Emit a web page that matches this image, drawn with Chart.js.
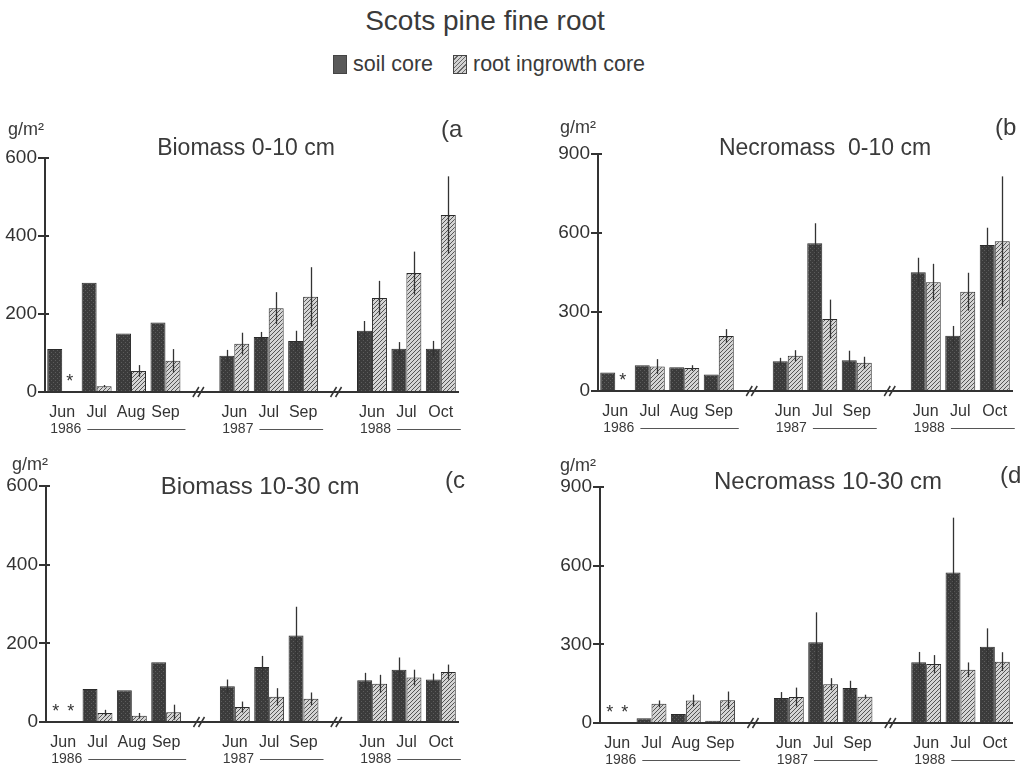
<!DOCTYPE html>
<html>
<head>
<meta charset="utf-8">
<script src="https://cdn.jsdelivr.net/npm/chart.js@4.4.0/dist/chart.umd.min.js"></script>
<style>
body { margin:0; background:#fff; width:1035px; height:770px; position:relative; overflow:hidden;
       font-family:"Liberation Sans", Arial, sans-serif; color:#3a3a3a; }
#title { position:absolute; left:0; width:970px; top:5px; text-align:center; font-size:28px; }
#legend { position:absolute; left:333px; top:52px; font-size:21.5px; white-space:nowrap; }
#legend span.sw { display:inline-block; width:14px; height:19px; vertical-align:-3px; border:1px solid #444; box-sizing:border-box; }
#legend .soil { background:#5a5a5a; }
#legend .ing { background:repeating-linear-gradient(135deg, #d2d2d2 0 2px, #666 2px 3px); margin-left:14px; }
.panel { position:absolute; }
</style>
</head>
<body>
<div id="title">Scots pine fine root</div>
<div id="legend"><span class="sw soil"></span> soil core <span class="sw ing"></span> root ingrowth core</div>
<canvas id="chartA" class="panel"></canvas>
<canvas id="chartB" class="panel"></canvas>
<canvas id="chartC" class="panel"></canvas>
<canvas id="chartD" class="panel"></canvas>
<script>
const FONT = '"Liberation Sans", Arial, sans-serif';
const NARROW = '"Liberation Sans Narrow", "Arial Narrow", "Liberation Sans", sans-serif';
const INK = '#333';

// x categories: three sampling years with an empty slot for each axis break
const months = ['Jun', 'Jul', 'Aug', 'Sep', '', 'Jun', 'Jul', 'Sep', '', 'Jun', 'Jul', 'Oct'];
const years = ['1986', '1987', '1988'];
const yearFirst = [0, 5, 9];
const yearLast = [3, 7, 11];
const breaks = [4, 8];

// (a) Biomass 0-10 cm
const soilA = [110, 280, 150, 178, null, 93, 141, 131, null, 157, 111, 111];
const soilAErr = [0, 0, 0, 0, null, 15, 13, 26, null, 25, 17, 20];
const ingA = [null, 15, 54, 80, null, 124, 215, 244, null, 241, 305, 454];
const ingAErr = [0, 3, 15, 30, null, 28, 41, 76, null, 44, 55, 99];

// (b) Necromass 0-10 cm
const soilB = [70, 98, 90, 63, null, 113, 561, 117, null, 451, 210, 554];
const soilBErr = [0, 0, 0, 0, null, 13, 76, 36, null, 55, 37, 66];
const ingB = [null, 93, 87, 209, null, 134, 273, 107, null, 413, 377, 569];
const ingBErr = [0, 28, 11, 26, null, 21, 74, 23, null, 70, 72, 246];

// (c) Biomass 10-30 cm
const soilC = [null, 84, 81, 152, null, 91, 140, 220, null, 106, 133, 108];
const soilCErr = [0, 0, 0, 0, null, 17, 28, 73, null, 19, 31, 15];
const ingC = [null, 23, 16, 25, null, 38, 64, 59, null, 97, 113, 127];
const ingCErr = [0, 8, 7, 19, null, 14, 22, 16, null, 23, 20, 19];

// (d) Necromass 10-30 cm
const soilD = [null, 18, 34, 9, null, 95, 308, 133, null, 232, 574, 291];
const soilDErr = [0, 0, 0, 0, null, 23, 114, 28, null, 39, 209, 70];
const ingD = [null, 73, 86, 87, null, 99, 148, 100, null, 225, 203, 234];
const ingDErr = [0, 13, 22, 33, null, 36, 23, 8, null, 34, 28, 36];

function makePattern(kind) {
    const c = document.createElement('canvas');
    c.width = 4; c.height = 4;
    const g = c.getContext('2d');
    if (kind === 'soil') {
        g.fillStyle = '#3b3b3b'; g.fillRect(0, 0, 4, 4);
        g.fillStyle = '#5c5c5c'; g.fillRect(1, 0, 1, 1); g.fillRect(3, 2, 1, 1);
    } else {
        g.fillStyle = '#d4d4d4'; g.fillRect(0, 0, 4, 4);
        g.fillStyle = '#555';
        for (let i = 0; i < 4; i++) g.fillRect(3 - i, i, 1, 1);
    }
    return g.createPattern(c, 'repeat');
}

// page geometry of each panel (canvas box, axis box, text anchors)
const panels = [
    { id: 'chartA', left: 0, top: 90, w: 515, h: 350, axL: 45, axT: 158, axB: 392, axR: 458, ymax: 600, step: 200,
      soil: soilA, soilErr: soilAErr, ing: ingA, ingErr: ingAErr,
      title: 'Biomass 0-10 cm', titleX: 246, titleY: 149, titleSize: 23, tag: '(a', tagX: 441, tagY: 130, unitX: 8, unitY: 130 },
    { id: 'chartB', left: 515, top: 90, w: 520, h: 350, axL: 598, axT: 154, axB: 391, axR: 1012, ymax: 900, step: 300,
      soil: soilB, soilErr: soilBErr, ing: ingB, ingErr: ingBErr,
      title: 'Necromass  0-10 cm', titleX: 825, titleY: 149, titleSize: 23, tag: '(b', tagX: 995, tagY: 128, unitX: 560, unitY: 128 },
    { id: 'chartC', left: 0, top: 425, w: 515, h: 345, axL: 46, axT: 486, axB: 722, axR: 458, ymax: 600, step: 200,
      soil: soilC, soilErr: soilCErr, ing: ingC, ingErr: ingCErr,
      title: 'Biomass 10-30 cm', titleX: 260, titleY: 487, titleSize: 24, tag: '(c', tagX: 445, tagY: 481, unitX: 12, unitY: 465 },
    { id: 'chartD', left: 515, top: 425, w: 520, h: 345, axL: 600, axT: 487, axB: 723, axR: 1012, ymax: 900, step: 300,
      soil: soilD, soilErr: soilDErr, ing: ingD, ingErr: ingDErr,
      title: 'Necromass 10-30 cm', titleX: 828, titleY: 482, titleSize: 24, tag: '(d', tagX: 1000, tagY: 476, unitX: 560, unitY: 466 }
];

const Y_AXIS_W = 40;
const X_AXIS_H = 40;

const decorPlugin = {
    id: 'decor',
    afterDatasetsDraw(chart, args, opts) {
        const ctx = chart.ctx;
        const yScale = chart.scales.y;
        ctx.save();
        ctx.strokeStyle = INK;
        ctx.lineWidth = 1.3;
        chart.data.datasets.forEach((ds, i) => {
            const meta = chart.getDatasetMeta(i);
            meta.data.forEach((bar, j) => {
                const v = ds.data[j];
                const e = ds.errors[j];
                if (v === null) {
                    if (months[j] !== '') {
                        ctx.fillStyle = INK;
                        ctx.font = '18px ' + FONT;
                        ctx.textAlign = 'center';
                        ctx.textBaseline = 'middle';
                        ctx.fillText('*', bar.x, chart.chartArea.bottom - 10);
                    }
                    return;
                }
                if (!e) return;
                ctx.beginPath();
                ctx.moveTo(Math.round(bar.x) + 0.5, yScale.getPixelForValue(v + e));
                ctx.lineTo(Math.round(bar.x) + 0.5, yScale.getPixelForValue(Math.max(0, v - e)));
                ctx.stroke();
            });
        });
        ctx.restore();
    },
    afterDraw(chart, args, opts) {
        const ctx = chart.ctx;
        const xScale = chart.scales.x;
        const yScale = chart.scales.y;
        const area = chart.chartArea;
        const p = opts.panel;
        ctx.save();
        ctx.fillStyle = '#3a3a3a';
        ctx.textBaseline = 'middle';

        // panel title, tag and unit
        ctx.font = p.titleSize + 'px ' + FONT;
        ctx.textAlign = 'center';
        ctx.fillText(p.title, p.titleX - p.left, p.titleY - p.top);
        ctx.font = '24px ' + FONT;
        ctx.textAlign = 'left';
        ctx.fillText(p.tag, p.tagX - p.left, p.tagY - p.top);
        ctx.font = '18px ' + FONT;
        ctx.fillText('g/m²', p.unitX - p.left, p.unitY - p.top);

        // small tick stubs on the inside of the y axis
        ctx.strokeStyle = INK;
        ctx.lineWidth = 2;
        yScale.ticks.forEach(t => {
            const yy = Math.round(yScale.getPixelForValue(t.value));
            ctx.beginPath();
            ctx.moveTo(area.left, yy);
            ctx.lineTo(area.left + 4, yy);
            ctx.stroke();
        });

        // year labels with their rule
        ctx.font = '14px ' + NARROW;
        ctx.strokeStyle = '#555';
        ctx.lineWidth = 1;
        years.forEach((yr, k) => {
            const x0 = xScale.getPixelForValue(yearFirst[k]) - 12;
            const x1 = xScale.getPixelForValue(yearLast[k]) + 20;
            const yy = area.bottom + 37;
            ctx.fillText(yr, x0, yy);
            const tw = ctx.measureText(yr).width;
            ctx.beginPath();
            ctx.moveTo(x0 + tw + 6, yy + 0.5);
            ctx.lineTo(x1, yy + 0.5);
            ctx.stroke();
        });

        // axis breaks
        ctx.strokeStyle = INK;
        ctx.lineWidth = 1.5;
        breaks.forEach(b => {
            const cx = xScale.getPixelForValue(b);
            [-7, -2].forEach(dx => {
                ctx.beginPath();
                ctx.moveTo(cx + dx, area.bottom + 5);
                ctx.lineTo(cx + dx + 6, area.bottom - 5);
                ctx.stroke();
            });
        });
        ctx.restore();
    }
};

const soilFill = makePattern('soil');
const ingFill = makePattern('ing');

panels.forEach(p => {
    const canvas = document.getElementById(p.id);
    canvas.width = p.w;
    canvas.height = p.h;
    canvas.style.left = p.left + 'px';
    canvas.style.top = p.top + 'px';

    new Chart(canvas, {
        type: 'bar',
        data: {
            labels: months,
            datasets: [{
                label: 'soil core',
                data: p.soil,
                errors: p.soilErr,
                backgroundColor: soilFill,
                borderColor: '#2a2a2a',
                borderWidth: 1
            }, {
                label: 'root ingrowth core',
                data: p.ing,
                errors: p.ingErr,
                backgroundColor: ingFill,
                borderColor: '#2a2a2a',
                borderWidth: 1
            }]
        },
        options: {
            responsive: false,
            animation: false,
            categoryPercentage: 0.87,
            barPercentage: 1.0,
            layout: {
                padding: {
                    left: p.axL - p.left - Y_AXIS_W,
                    top: p.axT - p.top,
                    right: p.left + p.w - p.axR,
                    bottom: p.h - (p.axB - p.top) - X_AXIS_H
                }
            },
            plugins: {
                legend: { display: false },
                tooltip: { enabled: false },
                decor: { panel: p }
            },
            scales: {
                x: {
                    grid: { display: false },
                    border: { color: INK, width: 2 },
                    ticks: { color: '#333', font: { family: NARROW, size: 16 }, padding: 3, autoSkip: false, maxRotation: 0 },
                    afterFit(s) { s.height = X_AXIS_H; }
                },
                y: {
                    min: 0,
                    max: p.ymax,
                    ticks: { stepSize: p.step, color: '#333', font: { family: FONT, size: 19 }, padding: 1 },
                    grid: { drawOnChartArea: false, tickLength: 7, color: INK, lineWidth: 2 },
                    border: { color: INK, width: 2 },
                    afterFit(s) { s.width = Y_AXIS_W; }
                }
            }
        },
        plugins: [decorPlugin]
    });
});
</script>
</body>
</html>
